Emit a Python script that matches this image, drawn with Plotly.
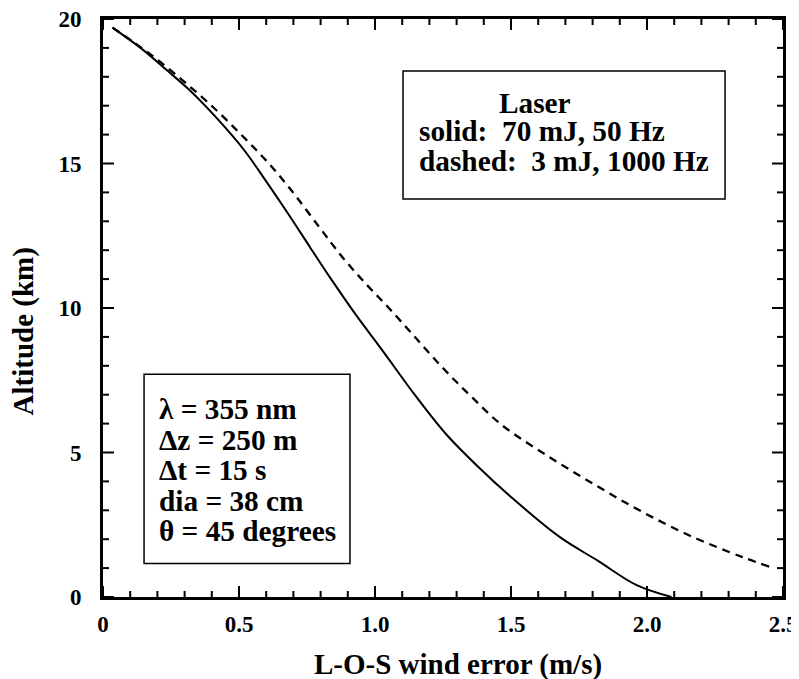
import plotly.graph_objects as go

# Solid curve: 70 mJ, 50 Hz
solid_x = [0.035, 0.146, 0.232, 0.317, 0.42, 0.52, 0.60, 0.68, 0.76, 0.84, 0.93, 1.025, 1.15, 1.26, 1.38, 1.51, 1.68, 1.82, 1.96, 2.09]
solid_y = [19.70, 18.94, 18.25, 17.55, 16.55, 15.45, 14.38, 13.27, 12.12, 10.98, 9.76, 8.56, 6.95, 5.65, 4.50, 3.38, 2.07, 1.25, 0.42, 0.0]

# Dashed curve: 3 mJ, 1000 Hz
dash_x = [0.035, 0.12, 0.207, 0.311, 0.415, 0.513, 0.60, 0.685, 0.795, 0.881, 0.967, 1.05, 1.151, 1.261, 1.36, 1.465, 1.63, 1.80, 1.972, 2.156, 2.351, 2.45]
dash_y = [19.70, 19.15, 18.54, 17.73, 16.86, 15.95, 15.10, 14.16, 12.80, 11.75, 10.83, 10.01, 8.95, 7.81, 6.88, 5.96, 4.91, 3.93, 3.00, 2.13, 1.38, 1.05]

# axis ticks
x_major = [0, 0.5, 1.0, 1.5, 2.0, 2.5]
x_labels = ["0", "0.5", "1.0", "1.5", "2.0", "2.5"]
x_minor = [0.1, 0.2, 0.3, 0.4, 0.6, 0.7, 0.8, 0.9, 1.1, 1.2, 1.3, 1.4, 1.6, 1.7, 1.8, 1.9, 2.1, 2.2, 2.3, 2.4]
y_major = [0, 5, 10, 15, 20]
y_labels = ["0", "5", "10", "15", "20"]
y_minor = [1, 2, 3, 4, 6, 7, 8, 9, 11, 12, 13, 14, 16, 17, 18, 19]

laser_lines = ["Laser", "solid:  70 mJ, 50 Hz", "dashed:  3 mJ, 1000 Hz"]
param_lines = ["λ = 355 nm", "Δz = 250 m", "Δt = 15 s", "dia = 38 cm", "θ = 45 degrees"]

FONT = "Liberation Serif"
X_RANGE = [0, 2.5]
Y_RANGE = [0, 20]
PLOT_W, PLOT_H = 680, 578          # plot area size in pixels
MAJ_PX, MIN_PX = 11, 6             # tick lengths in pixels

fig = go.Figure()
fig.add_trace(go.Scatter(x=solid_x, y=solid_y, mode="lines",
                         line=dict(color="black", width=2, shape="spline", smoothing=1.0), showlegend=False))
fig.add_trace(go.Scatter(x=dash_x, y=dash_y, mode="lines",
                         line=dict(color="black", width=2.3, dash="8px,6px", shape="spline", smoothing=1.0), showlegend=False))

# inside tick marks on all four sides, drawn as one line trace in data units
ux = (X_RANGE[1] - X_RANGE[0]) / PLOT_W
uy = (Y_RANGE[1] - Y_RANGE[0]) / PLOT_H
tx, ty = [], []
for vals, px in ((x_major, MAJ_PX), (x_minor, MIN_PX)):
    for v in vals:
        tx += [v, v, None, v, v, None]
        ty += [Y_RANGE[0], Y_RANGE[0] + px * uy, None, Y_RANGE[1], Y_RANGE[1] - px * uy, None]
for vals, px in ((y_major, MAJ_PX), (y_minor, MIN_PX)):
    for v in vals:
        tx += [X_RANGE[0], X_RANGE[0] + px * ux, None, X_RANGE[1], X_RANGE[1] - px * ux, None]
        ty += [v, v, None, v, v, None]
fig.add_trace(go.Scatter(x=tx, y=ty, mode="lines", line=dict(color="black", width=2),
                         hoverinfo="skip", showlegend=False))

# boxes
fig.add_shape(type="rect", xref="x", yref="y", x0=1.103, x1=2.287, y0=13.77, y1=18.2, line=dict(color="black", width=1.5))
fig.add_shape(type="rect", xref="x", yref="y", x0=0.151, x1=0.908, y0=1.16, y1=7.71, line=dict(color="black", width=1.5))

txtfont = dict(family=FONT, size=29.3, color="black", weight="bold")
laser_pos = [(1.45, 17.09), (1.155, 16.12), (1.155, 15.08)]
for t, (xx, yy) in zip(laser_lines, laser_pos):
    fig.add_annotation(x=xx, y=yy, xref="x", yref="y", text=t, showarrow=False, xanchor="left", yanchor="middle", font=txtfont)
param_y = [6.49, 5.42, 4.38, 3.31, 2.30]
for t, yy in zip(param_lines, param_y):
    fig.add_annotation(x=0.2, y=yy, xref="x", yref="y", text=t, showarrow=False, xanchor="left", yanchor="middle", font=txtfont)

# axis titles
fig.add_annotation(x=0.522, y=-0.116, xref="paper", yref="paper", text="L-O-S wind error (m/s)", showarrow=False,
                   xanchor="center", yanchor="middle", font=dict(family=FONT, size=29, color="black", weight="bold"))
fig.add_annotation(x=-0.1165, y=0.459, xref="paper", yref="paper", text="Altitude (km)", showarrow=False, textangle=-90,
                   xanchor="center", yanchor="middle", font=dict(family=FONT, size=29, color="black", weight="bold"))

axis_common = dict(showline=True, linecolor="black", linewidth=3, mirror=True, ticks="",
                   showgrid=False, zeroline=False, automargin=False, ticklabeloverflow="allow",
                   tickfont=dict(family=FONT, size=23, color="black", weight="bold"))

fig.update_xaxes(range=X_RANGE, tickmode="array", tickvals=x_major, ticktext=x_labels,
                 ticklabelstandoff=4, **axis_common)
fig.update_yaxes(range=Y_RANGE, tickmode="array", tickvals=y_major, ticktext=y_labels,
                 ticklabelstandoff=14, **axis_common)

# page body has an 8px margin: shrink the figure so the plot area lands where the reference has it
fig.update_layout(width=791, height=671, margin=dict(l=95, r=16, t=11, b=82),
                  plot_bgcolor="white", paper_bgcolor="white", showlegend=False)

fig.write_html("out.html")
